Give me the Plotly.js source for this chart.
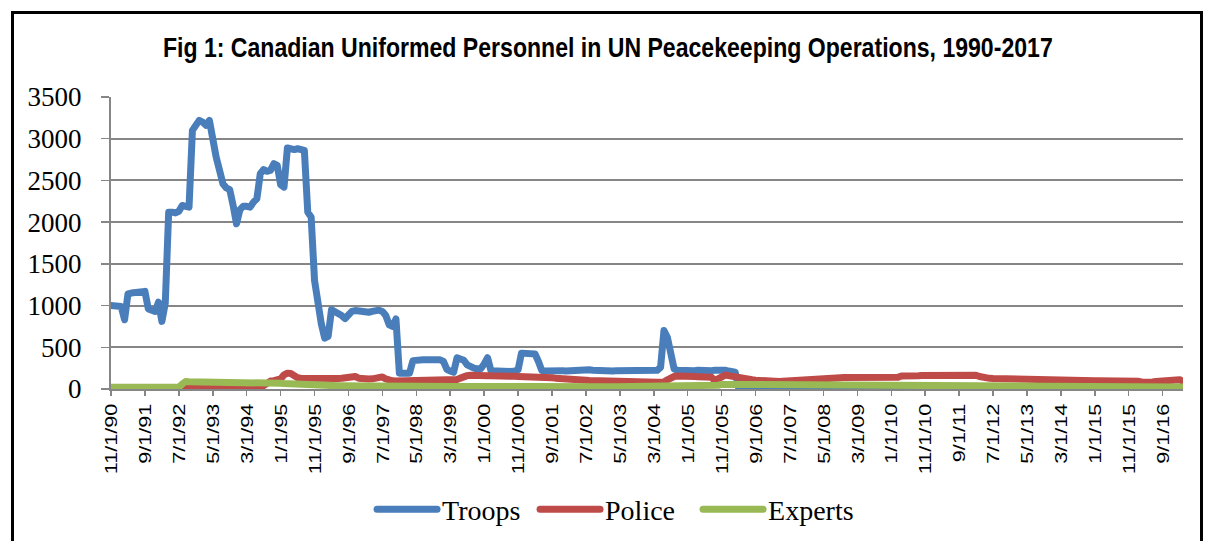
<!DOCTYPE html>
<html>
<head>
<meta charset="utf-8">
<script src="https://cdn.plot.ly/plotly-3.0.1.min.js"></script>
<style>
  html, body { margin: 0; padding: 0; background: #fff; }
  #wrap { position: relative; width: 1206px; height: 541px; overflow: hidden; }
  #chart { position: absolute; left: 0; top: 0; width: 1206px; height: 541px; }
  #frame { position: absolute; left: 11px; top: 11px; width: 1186px; height: 560px;
           border: 3px solid #000; pointer-events: none; }
  .scatterlayer path.js-line { stroke-linejoin: round !important; stroke-linecap: round !important; }
  .legend path.js-line { stroke-linecap: round !important; }
</style>
</head>
<body>
<div id="wrap">
  <div id="chart"></div>
  <div id="frame"></div>
</div>
<script>
// Monthly categories, starting November 1990
const startYear = 1990, startMonth = 11, monthCount = 317;
const months = [];
for (let i = 0; i < monthCount; i++) {
  const m0 = startMonth - 1 + i;
  const y = startYear + Math.floor(m0 / 12);
  const m = (m0 % 12) + 1;
  months.push(m + '/1/' + String(y % 100).padStart(2, '0'));
}
// Tick labels shown every 10 months
const tickLabels = months.filter((_, i) => i % 10 === 0);

const troops = [
  1000,1000,1000,990,830,1140,1150,1150,1150,1160,
  1170,960,950,930,1040,810,1030,2120,2120,2110,
  2130,2200,2190,2180,3100,3180,3220,3200,3160,3220,
  2950,2780,2620,2460,2410,2390,2200,1980,2150,2190,
  2190,2180,2240,2280,2580,2630,2610,2620,2700,2680,
  2450,2420,2890,2870,2870,2880,2860,2860,2120,2060,
  1300,1000,780,610,630,950,930,910,880,845,
  890,930,940,930,940,930,920,930,940,945,
  930,880,770,750,840,190,190,195,190,340,
  350,345,350,350,355,350,360,350,330,235,
  215,200,375,360,345,290,265,250,240,245,
  300,375,220,215,210,210,215,210,210,215,
  230,430,430,430,425,420,330,220,215,220,
  215,210,215,220,215,220,225,220,215,220,
  225,230,225,220,220,215,220,220,215,220,
  220,215,220,220,215,220,220,215,220,225,
  220,225,260,700,620,380,240,225,220,225,
  225,220,220,225,220,225,220,220,225,230,
  235,225,215,210,200,12,10,10,10,10,
  10,10,10,10,10,10,10,10,10,10,
  10,10,10,10,10,10,10,10,10,10,
  10,10,10,10,10,10,10,10,10,10,
  10,10,10,10,10,10,10,10,10,10,
  10,10,10,10,10,10,10,10,10,10,
  10,10,10,10,10,8,8,8,8,8,
  8,8,8,8,8,8,8,8,8,8,
  8,8,8,8,8,8,8,8,8,8,
  8,8,8,8,8,8,8,8,8,8,
  8,8,8,8,8,8,8,8,8,8,
  8,8,8,8,8,8,8,8,8,8,
  8,8,8,8,8,8,8,8,8,8,
  8,8,8,8,8,8,8
];

const police = [
  5,5,5,5,5,5,5,5,5,5,
  5,5,5,5,5,5,5,5,5,5,
  5,5,10,15,15,15,15,15,15,15,
  15,15,15,15,15,20,20,20,20,20,
  20,20,20,20,25,40,80,95,100,105,
  120,170,190,185,150,135,130,128,128,128,
  125,125,120,118,120,122,125,125,128,130,
  135,145,150,130,120,118,120,122,125,135,
  145,120,100,98,95,95,95,98,100,100,
  98,95,95,98,100,98,95,95,98,100,
  100,105,115,130,150,160,165,168,170,168,
  165,160,158,160,162,160,158,155,155,152,
  150,150,152,150,148,150,152,150,145,140,
  135,130,125,125,120,118,115,112,110,108,
  105,102,100,98,95,92,90,90,88,88,
  88,87,87,85,85,84,83,82,82,80,
  80,80,82,85,110,140,150,155,150,148,
  150,152,150,148,150,150,150,140,100,130,
  160,167,160,150,140,130,125,120,115,110,
  105,100,96,94,92,90,90,90,92,95,
  100,110,118,120,120,122,124,125,128,130,
  130,132,132,134,136,136,138,138,140,140,
  140,140,140,138,135,130,125,122,120,120,
  120,122,140,155,160,160,158,158,160,162,
  163,165,167,168,167,166,167,167,165,165,
  166,167,167,166,167,165,150,136,130,128,
  126,125,124,123,122,122,120,120,115,108,
  100,96,96,95,95,96,96,95,95,95,
  94,94,94,94,93,93,94,94,96,98,
  98,99,100,100,102,102,101,100,100,102,
  100,98,96,92,82,78,80,85,90,95,
  100,105,110,115,120,112,90
];

const experts = [
  20,20,20,20,20,20,20,20,20,20,
  20,20,20,20,20,20,20,20,20,20,
  20,60,90,88,88,87,86,86,85,85,
  85,84,84,83,83,82,82,82,81,81,
  80,80,80,79,78,78,77,76,75,72,
  68,65,62,60,58,57,56,55,52,48,
  45,42,40,40,38,38,38,38,38,40,
  40,42,42,40,38,38,36,35,34,34,
  33,33,32,32,32,31,31,30,30,30,
  30,31,32,32,32,31,30,30,30,30,
  30,30,31,31,32,32,32,31,31,30,
  30,30,30,31,31,31,30,30,30,30,
  30,30,30,30,30,29,29,29,29,29,
  29,29,29,30,30,30,30,30,29,29,
  29,29,29,29,29,28,28,28,28,28,
  28,28,28,28,29,29,29,29,29,29,
  29,29,29,30,30,30,30,30,30,30,
  30,30,30,30,30,30,30,32,38,45,
  55,58,58,57,56,55,55,54,54,53,
  52,52,52,51,51,51,51,50,50,50,
  50,50,50,50,50,50,50,50,50,50,
  50,50,50,49,49,49,49,49,49,49,
  49,49,49,49,49,48,48,48,48,48,
  48,48,48,48,48,48,48,48,48,48,
  48,48,48,48,48,48,48,47,46,46,
  45,42,40,38,37,36,36,36,36,36,
  36,36,36,35,35,35,35,35,35,34,
  34,34,34,34,33,33,33,33,33,32,
  32,32,32,31,31,31,31,30,30,30,
  30,29,29,29,28,28,28,28,27,27,
  27,27,26,26,26,26,25,25,25,25,
  25,25,25,25,25,25,25
];

const seriesNames = ['Troops', 'Police', 'Experts'];
const seriesColors = ['#4A7EBB', '#BE4B48', '#98B954'];
const seriesData = [troops, police, experts];

const traces = seriesData.map((vals, k) => ({
  type: 'scatter', mode: 'lines',
  x: months, y: vals, name: seriesNames[k],
  line: { color: seriesColors[k], width: 7 },
  hoverinfo: 'skip'
}));

const layout = {
  width: 1206, height: 541,
  paper_bgcolor: '#ffffff', plot_bgcolor: '#ffffff',
  margin: { l: 111, r: 23, t: 97, b: 152 },
  showlegend: true,
  title: {
    text: 'Fig 1: Canadian Uniformed Personnel in UN Peacekeeping Operations, 1990-2017',
    font: { family: '"Liberation Sans", Arial, sans-serif', size: 27, color: '#000', weight: 'bold' },
    x: 0.504, xanchor: 'center', y: 0.913, yanchor: 'middle'
  },
  xaxis: {
    type: 'category',
    range: [0, monthCount - 1],
    tickmode: 'array', tickvals: tickLabels, ticktext: tickLabels,
    tickangle: -90,
    ticks: 'outside', ticklen: 5, tickcolor: '#868686', tickwidth: 1.5,
    showline: true, linecolor: '#868686', linewidth: 2,
    showgrid: false, zeroline: false,
    tickfont: { family: '"Liberation Sans", Arial, sans-serif', size: 19, color: '#000' }
  },
  yaxis: {
    range: [0, 3500], dtick: 500, tick0: 0,
    ticks: 'outside', ticklen: 8, tickcolor: '#868686', tickwidth: 1.5,
    showline: true, linecolor: '#868686', linewidth: 2,
    showgrid: true, gridcolor: '#868686', gridwidth: 2,
    zeroline: false,
    ticklabelstandoff: 14,
    tickfont: { family: '"Liberation Serif", "Times New Roman", serif', size: 27, color: '#000' }
  },
  legend: {
    orientation: 'h',
    xref: 'container', yref: 'container',
    x: 0.3085, xanchor: 'left', y: 0.058, yanchor: 'middle',
    font: { family: '"Liberation Serif", "Times New Roman", serif', size: 28, color: '#000' },
    itemwidth: 60, entrywidth: 88, entrywidthmode: 'pixels', traceorder: 'normal',
    bgcolor: 'rgba(0,0,0,0)'
  }
};

Plotly.newPlot('chart', traces, layout, { staticPlot: true, displayModeBar: false }).then(gd => {
  // Condense the title horizontally to the reference's narrow bold face
  const t = gd.querySelector('.gtitle');
  if (t) {
    const bb = t.getBBox();
    const target = 890;
    const s = target / bb.width;
    const cx = bb.x + bb.width / 2;
    t.setAttribute('transform', `translate(${cx},0) scale(${s},1) translate(${-cx},0)`);
  }
  // Stretch rotated x tick labels along their run, thin them across
  gd.querySelectorAll('.xtick text').forEach(el => {
    const x = parseFloat(el.getAttribute('x')) || 0;
    const y = parseFloat(el.getAttribute('y')) || 0;
    const tr = el.getAttribute('transform') || '';
    el.setAttribute('transform', `${tr} translate(${x},${y}) scale(1.14,0.86) translate(${-x},${-y})`);
  });
});
</script>
</body>
</html>
